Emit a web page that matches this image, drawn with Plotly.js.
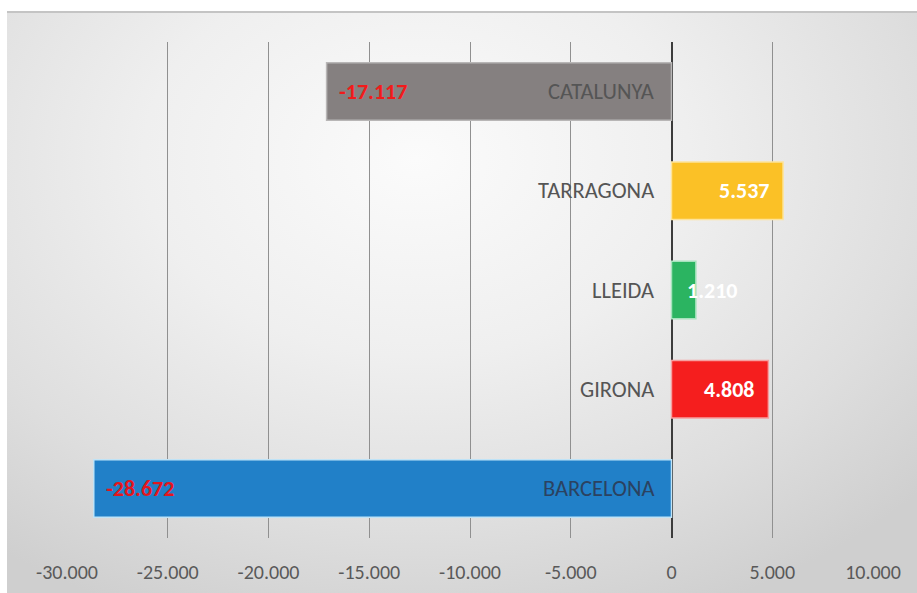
<!DOCTYPE html>
<html>
<head>
<meta charset="utf-8">
<script src="https://cdn.plot.ly/plotly-3.0.1.min.js"></script>
<style>
  html, body { margin: 0; padding: 0; background: #ffffff; width: 917px; height: 593px; overflow: hidden; }
  #bg { position: absolute; left: 7px; top: 11px; width: 910px; height: 582px;
        border-top: 2px solid #c4c4c4;
        background: radial-gradient(ellipse 75% 85% at 45% 25%, #fbfbfb 0%, #efefef 40%, #dedede 75%, #cfcfcf 100%); }
  #chart { position: absolute; left: 0; top: 0; width: 917px; height: 593px; }
</style>
</head>
<body>
<div id="bg"></div>
<div id="chart"></div>
<script>
const categories = ["BARCELONA", "GIRONA", "LLEIDA", "TARRAGONA", "CATALUNYA"];
const values = [-28672, 4808, 1210, 5537, -17117];
const valueLabels = ["-28.672", "4.808", "1.210", "5.537", "-17.117"];
const barColors = ["#2180c8", "#f51e1e", "#2bb461", "#fbc126", "#858080"];
const barLineColors = ["#bfe3f7", "#f5a0a0", "#a6e3bd", "#fde49c", "#b8b6b6"];
const labelColors = ["#e3161e", "#ffffff", "#ffffff", "#ffffff", "#f21b1b"];
const tickVals = [-30000, -25000, -20000, -15000, -10000, -5000, 0, 5000, 10000];
const tickText = ["-30.000", "-25.000", "-20.000", "-15.000", "-10.000", "-5.000", "0", "5.000", "10.000"];

const FONT = "Carlito, 'Liberation Sans Narrow', 'Open Sans', sans-serif";

const trace = {
  type: "bar",
  orientation: "h",
  x: values,
  y: categories,
  width: 0.58,
  marker: { color: barColors, line: { color: barLineColors, width: 1.5 } },
  hoverinfo: "skip"
};

const annotations = [];
categories.forEach((c, i) => {
  annotations.push({
    x: 0, y: c, xref: "x", yref: "y", text: c, showarrow: false,
    xanchor: "right", xshift: -16,
    font: { family: FONT, size: 22.5, color: i === 0 ? "#2b4260" : "#555555" }
  });
  const v = values[i];
  let xanchor, xshift;
  if (v < 0) { xanchor = "left"; xshift = 10; }
  else if (Math.abs(v) < 2500) { xanchor = "left"; xshift = -11; }
  else { xanchor = "right"; xshift = -12; }
  annotations.push({
    x: v, y: c, xref: "x", yref: "y", text: "<b>" + valueLabels[i] + "</b>", showarrow: false,
    xanchor: xanchor, xshift: xshift,
    font: { family: FONT, size: 22, color: labelColors[i] }
  });
});

const layout = {
  width: 917, height: 593,
  margin: { l: 67, r: 44, t: 42, b: 55, pad: 0 },
  paper_bgcolor: "rgba(0,0,0,0)",
  plot_bgcolor: "rgba(0,0,0,0)",
  showlegend: false,
  separators: ",.",
  xaxis: {
    range: [-30000, 10000],
    tickvals: tickVals, ticktext: tickText,
    showgrid: true, gridcolor: "#909090", gridwidth: 1,
    zeroline: true, zerolinecolor: "#3c3c3c", zerolinewidth: 2,
    showline: false, ticks: "",
    tickfont: { family: FONT, size: 20, color: "#595959" },
    ticklabelstandoff: 20,
    fixedrange: true
  },
  yaxis: {
    range: [-0.5, 4.5],
    showticklabels: false, showgrid: false, zeroline: false, showline: false, ticks: "",
    fixedrange: true
  },
  annotations: annotations
};

Plotly.newPlot("chart", [trace], layout, { displayModeBar: false, staticPlot: true });
</script>
</body>
</html>
